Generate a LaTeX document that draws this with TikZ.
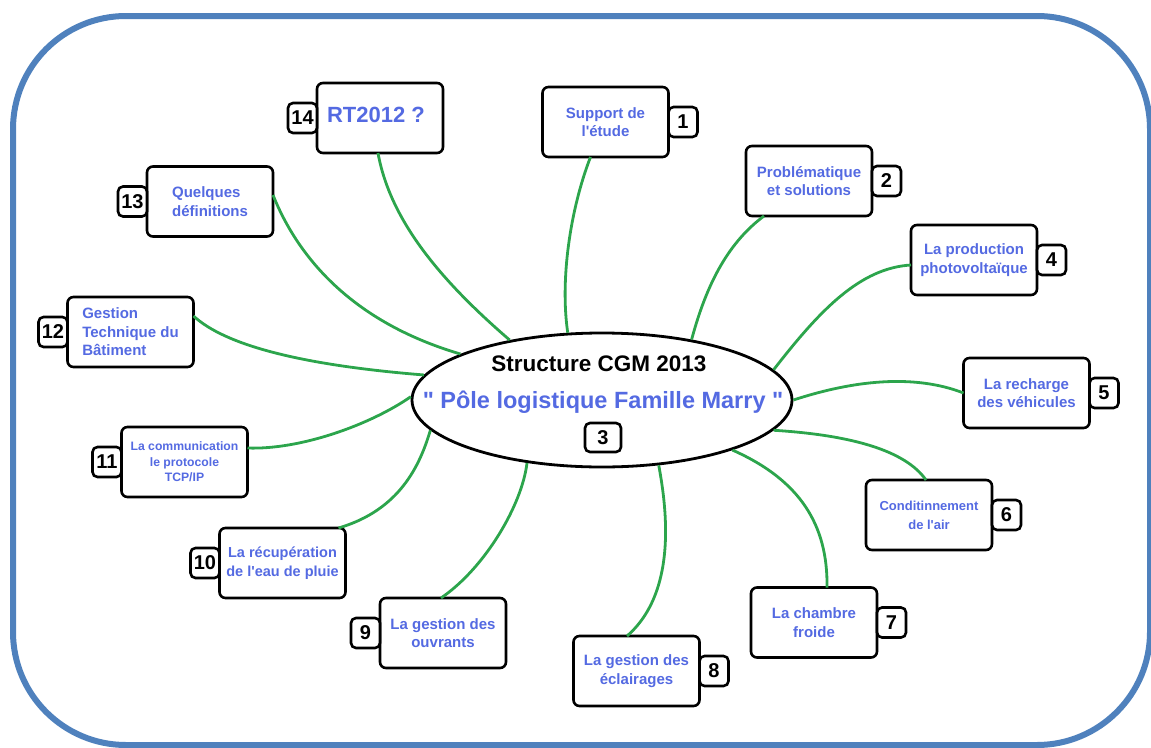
\documentclass[tikz,border=0pt]{standalone}
\usepackage{fontspec}
\setmainfont{Liberation Sans}[Ligatures=TeXOff]
\usetikzlibrary{shapes.geometric}
\definecolor{framecol}{RGB}{79,129,189}
\definecolor{txtblue}{RGB}{84,106,226}
\definecolor{linkgreen}{RGB}{44,165,76}
\begin{document}
\begin{tikzpicture}[x=1pt,y=-1pt,
  topic/.style={draw=black, line width=2.6pt, rounded corners=6pt, fill=white,
    minimum width=126pt, minimum height=70pt, inner sep=0pt, outer sep=0pt,
    text=txtblue, font=\bfseries\fontsize{15}{18.5}\selectfont, align=center},
  numbox/.style={draw=black, line width=2.6pt, rounded corners=5pt, fill=white,
    minimum width=29pt, minimum height=30pt, inner sep=0pt, outer sep=0pt,
    font=\bfseries\fontsize{20}{20}\selectfont},
  link/.style={draw=linkgreen, line width=2.8pt},
  framebox/.style={draw=framecol, line width=6pt, rounded corners=113pt}
]
\useasboundingbox (0,0) rectangle (1151,747);
\draw[framebox] (13,16) rectangle (1150,745);

% central ellipse
\node[draw=black, ellipse, line width=2.8pt, minimum width=380pt, minimum height=134pt,
      inner sep=0pt, fill=white] (E) at (602,400) {};
\node[anchor=base, font=\bfseries\fontsize{22.5}{24}\selectfont] (t1) at (599,371) {Structure CGM 2013};
\node[anchor=base, text=txtblue, font=\bfseries\fontsize{23.5}{25}\selectfont] (t2) at (603,408) {" Pôle logistique Famille Marry "};
\node[numbox, minimum width=36pt, minimum height=29pt] (n3) at (603,437.5) {3};

% topic boxes
\node[topic] (b1) at (605.5,122) {Support de\\l'étude};
\node[topic] (b2) at (809,181) {Problématique\\et solutions};
\node[topic] (b4) at (974,260) {La production\\photovoltaïque};
\node[topic] (b5) at (1026.5,393) {La recharge\\des véhicules};
\node[topic, font=\bfseries\fontsize{13}{19}\selectfont] (b6) at (929,515) {Conditinnement\\de l'air};
\node[topic] (b7) at (814,622.5) {La chambre\\froide};
\node[topic] (b8) at (636.5,671) {La gestion des\\éclairages};
\node[topic] (b9) at (443,633) {La gestion des\\ouvrants};
\node[topic, font=\bfseries\fontsize{14.5}{18.5}\selectfont] (b10) at (282.5,563) {La récupération\\de l'eau de pluie};
\node[topic, font=\bfseries\fontsize{12.2}{15.5}\selectfont] (b11) at (184.5,462) {La communication\\le protocole\\TCP/IP};
\node[topic, align=left] (b12) at (130.5,332) {Gestion\\Technique du\\Bâtiment};
\node[topic, align=left] (b13) at (210,201.5) {Quelques\\définitions};
\node[topic, font=\bfseries\fontsize{22}{24}\selectfont] (b14) at (380,118) {\hspace*{-8pt}\raisebox{6pt}{RT2012 ?}};

% number boxes
\node[numbox, anchor=west] (n1) at (b1.east) {1};
\node[numbox, anchor=west] (n2) at (b2.east) {2};
\node[numbox, anchor=west] (n4) at (b4.east) {4};
\node[numbox, anchor=west] (n5) at (b5.east) {5};
\node[numbox, anchor=west] (n6) at (b6.east) {6};
\node[numbox, anchor=west] (n7) at (b7.east) {7};
\node[numbox, anchor=west] (n8) at (b8.east) {8};
\node[numbox, anchor=east] (n9) at (b9.west) {9};
\node[numbox, anchor=east] (n10) at (b10.west) {10};
\node[numbox, anchor=east] (n11) at (b11.west) {11};
\node[numbox, anchor=east] (n12) at (b12.west) {12};
\node[numbox, anchor=east] (n13) at (b13.west) {13};
\node[numbox, anchor=east] (n14) at (b14.west) {14};

% connectors
\draw[link] ([xshift=-15pt]b1.south) .. controls (570,210) and (560,280) .. (E.117);
\draw[link] ([xshift=-45pt]b2.south) .. controls (725,245) and (705,290) .. (E.34);
\draw[link] ([yshift=-5pt]b4.west) .. controls (860,268) and (820,310) .. (E.10.7);
\draw[link] (b5.west) .. controls (925,378) and (870,375) .. (E.0.6);
\draw[link] ([xshift=-3pt]b6.north) .. controls (905,450) and (850,435) .. (E.350.6);
\draw[link] ([xshift=13pt]b7.north) .. controls (828,525) and (800,480) .. (E.339.2);
\draw[link] ([xshift=-9.5pt]b8.north) .. controls (680,590) and (665,500) .. (E.311.3);
\draw[link] ([xshift=-2pt]b9.north) .. controls (485,568) and (522,505) .. (E.220.2);
\draw[link] ([xshift=56pt]b10.north) .. controls (400,510) and (420,465) .. (E.190.8);
\draw[link] ([yshift=14pt]b11.east) .. controls (300,450) and (370,425) .. (E.179.7);
\draw[link] ([yshift=16pt]b12.east) .. controls (225,345) and (300,365) .. (E.172.8);
\draw[link] ([yshift=6.5pt]b13.east) .. controls (295,250) and (345,320) .. (E.162.7);
\draw[link] ([xshift=-2pt]b14.south) .. controls (390,220) and (440,280) .. (E.147.1);
\end{tikzpicture}
\end{document}
